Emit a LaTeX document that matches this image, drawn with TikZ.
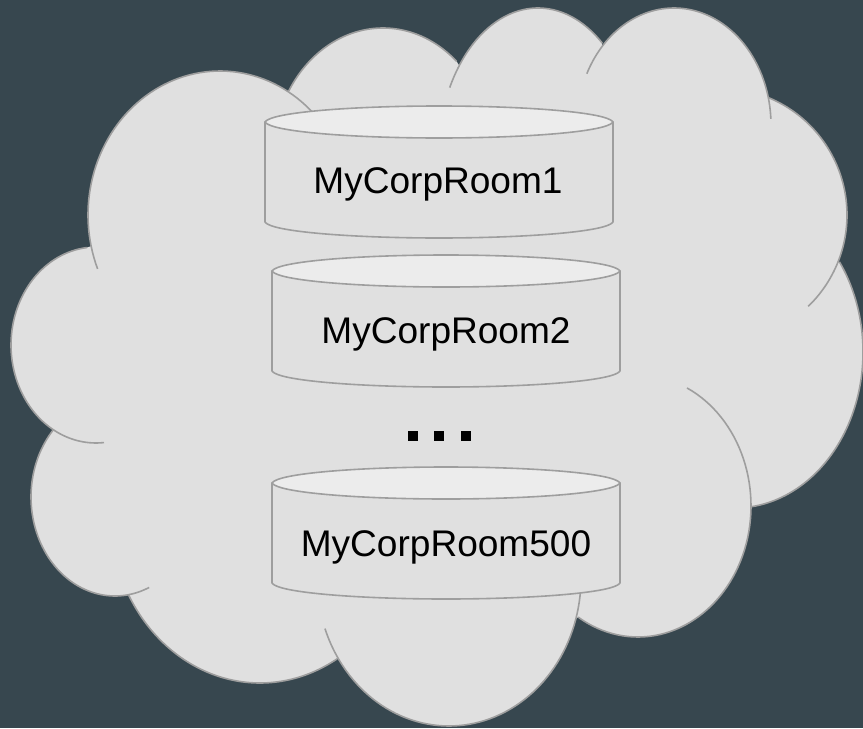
\documentclass[tikz,border=0pt]{standalone}
\usepackage{fontspec}
\setmainfont{Liberation Sans}
\definecolor{bgc}{HTML}{37474F}
\definecolor{cloudc}{HTML}{E0E0E0}
\definecolor{linec}{HTML}{9E9E9E}
\definecolor{topc}{HTML}{ECECEC}
\tikzset{
  edgeline/.style={draw=linec,line width=1.2pt,line join=round},
  label text/.style={font=\fontsize{27.8}{32}\selectfont,text=black,anchor=base,inner sep=0pt},
  dotmark/.style={fill=black,draw=none,minimum size=7.5pt,inner sep=0pt,rectangle}
}
% lobe: cx cy rx ry start end
\newcommand{\lobeseg}[6]{plot[domain=#5:#6,samples=70] ({#1+#3*cos(\x)},{#2+#4*sin(\x)})}
\newcommand{\nextseg}[6]{-- plot[domain=#5:#6,samples=70] ({#1+#3*cos(\x)},{#2+#4*sin(\x)})}
\newcommand{\lobeline}[6]{\draw[edgeline] \lobeseg{#1}{#2}{#3}{#4}{#5}{#6};}
% can: left x, top y, name, label x, baseline y, text
\newcommand{\roomcan}[6]{
  \draw[edgeline,fill=cloudc] (#1,#2+16) -- (#1,#2+116)
     .. controls (#1+6,#2+126) and (#1+90,#2+132) .. (#1+174,#2+132)
     .. controls (#1+258,#2+132) and (#1+342,#2+126) .. (#1+348,#2+116)
     -- (#1+348,#2+16) -- cycle;
  \draw[edgeline,fill=topc] (#1,#2+16)
     .. controls (#1+6,#2+6) and (#1+90,#2) .. (#1+174,#2)
     .. controls (#1+258,#2) and (#1+342,#2+6) .. (#1+348,#2+16)
     .. controls (#1+342,#2+26) and (#1+258,#2+32) .. (#1+174,#2+32)
     .. controls (#1+90,#2+32) and (#1+6,#2+26) .. (#1,#2+16) -- cycle;
  \node[label text] (#3) at (#4,#5) {#6};
}
\begin{document}
\begin{tikzpicture}[x=0.75pt,y=-0.75pt]
\useasboundingbox (0,0) rectangle (863,728);
\fill[bgc] (0,0) rectangle (863,728);
% cloud body
\fill[cloudc]
  \lobeseg{220}{215}{132}{144}{167.5}{300.7}
  \nextseg{383}{158}{110}{130}{211}{312}
  \nextseg{538}{158}{100}{150}{218}{310}
  \nextseg{674}{125}{97}{117}{222}{347}
  \nextseg{720}{215}{127}{127}{292.7}{382}
  \nextseg{735}{352}{128}{156}{324.7}{442.4}
  \nextseg{638}{506}{113}{131}{360}{482}
  \nextseg{449}{578}{132}{148}{16}{147}
  \nextseg{260}{513}{150}{170}{59}{151}
  \nextseg{115}{497}{84}{99}{82}{222.5}
  \nextseg{96}{345}{85}{98}{120}{264}
  -- cycle;
% cloud outline arcs, with their inner tails
\lobeline{220}{215}{132}{144}{158}{320}
\lobeline{383}{158}{110}{130}{211}{312}
\lobeline{538}{158}{100}{150}{208}{310}
\lobeline{674}{125}{97}{117}{206}{357}
\lobeline{720}{215}{127}{127}{292.7}{406}
\lobeline{735}{352}{128}{156}{324.7}{442.4}
\lobeline{638}{506}{113}{131}{295.7}{482}
\lobeline{449}{578}{132}{148}{0}{160}
\lobeline{260}{513}{150}{170}{59}{151}
\lobeline{115}{497}{84}{99}{66}{222.5}
\lobeline{96}{345}{85}{98}{84.6}{264}
% rooms
\roomcan{265}{106}{roomA}{438}{193}{MyCorpRoom1}
\roomcan{272}{255}{roomB}{446}{343}{MyCorpRoom2}
\roomcan{272}{467}{roomC}{446}{556}{MyCorpRoom500}
% dots
\node[dotmark] (dotA) at (413,436) {};
\node[dotmark] (dotB) at (439,436) {};
\node[dotmark] (dotC) at (466,436) {};
\end{tikzpicture}
\end{document}
